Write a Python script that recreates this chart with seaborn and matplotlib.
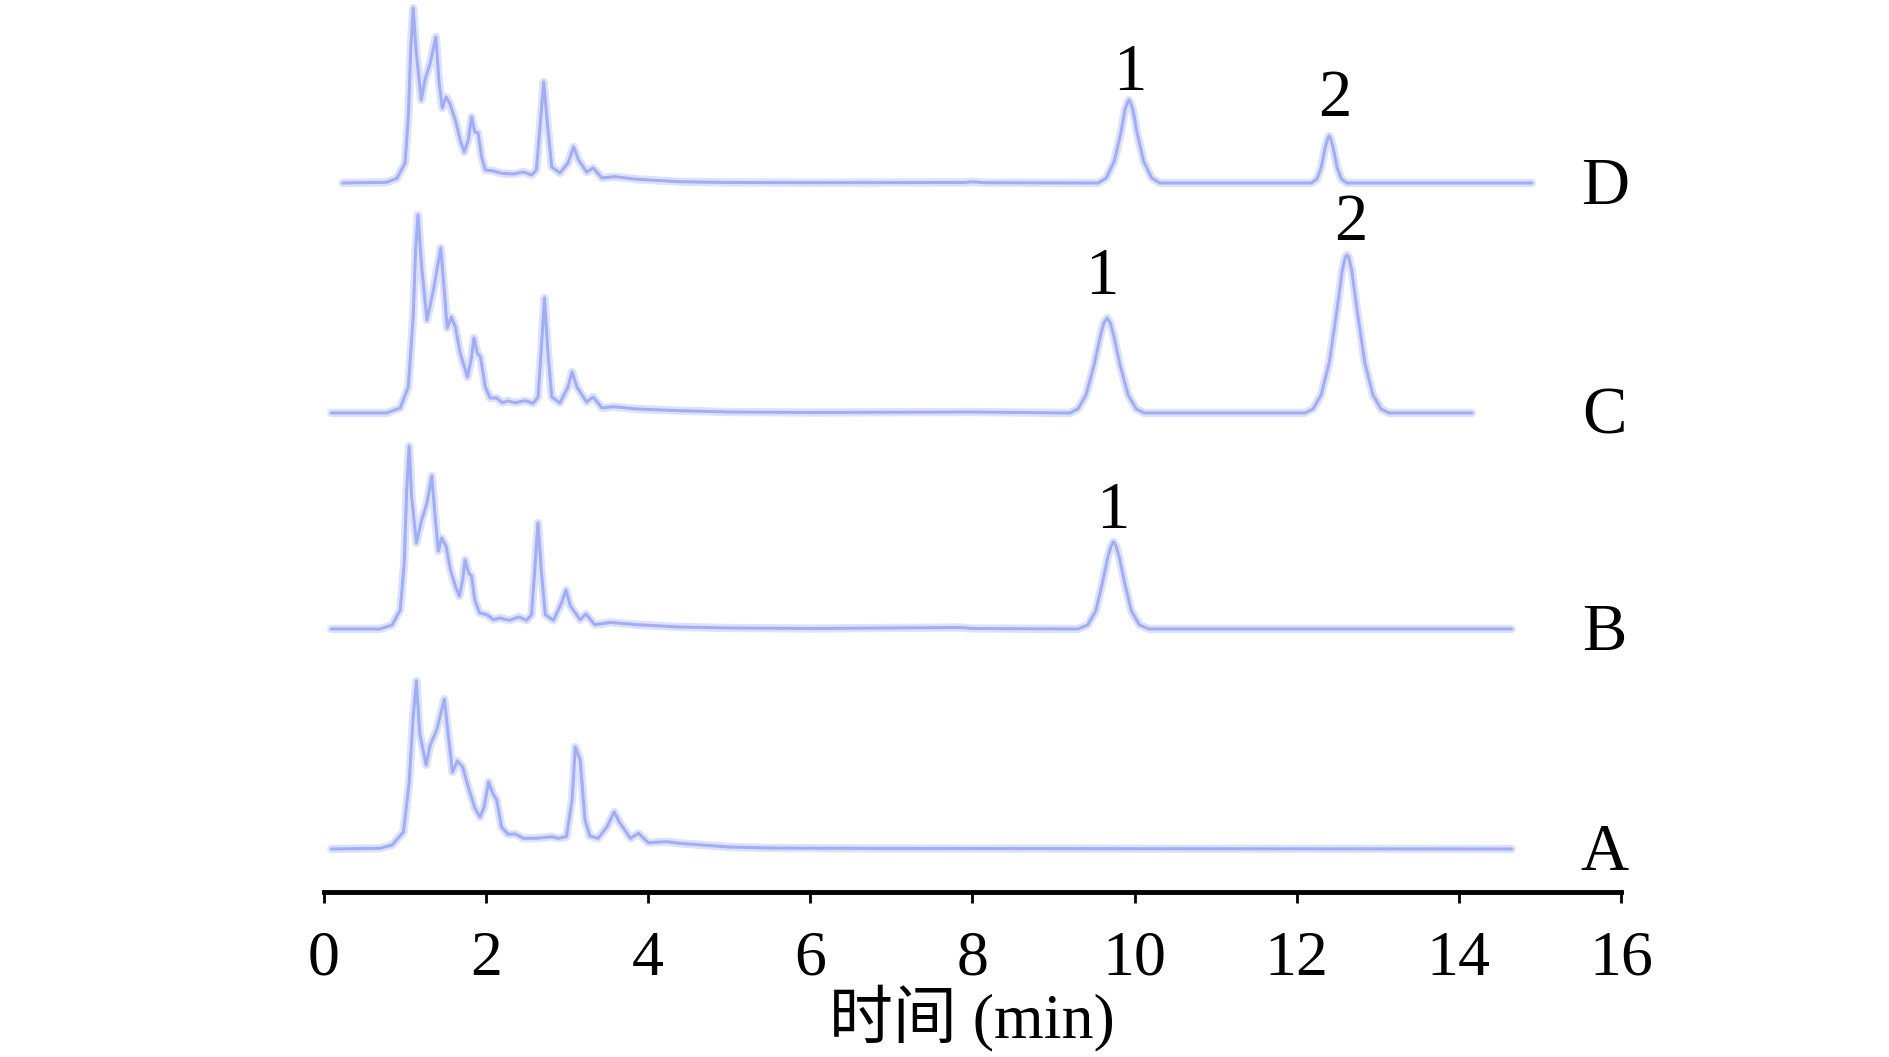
import pandas as pd
import seaborn as sns
import matplotlib.pyplot as plt

# chromatogram traces: (time in min, signal above own baseline)
trace_a = [(0.09, 0), (0.69, 0.7), (0.84, 4), (0.98, 17), (1.05, 66), (1.10, 132), (1.14, 168),
           (1.18, 116), (1.26, 84), (1.31, 104), (1.39, 119), (1.485, 150), (1.53, 116), (1.585, 77),
           (1.645, 88), (1.71, 82), (1.78, 62), (1.86, 41), (1.925, 32), (1.975, 42), (2.03, 67),
           (2.08, 56), (2.13, 49), (2.19, 22), (2.27, 14.7), (2.36, 15), (2.46, 10.7), (2.62, 10.7),
           (2.81, 12.3), (2.89, 10.7), (2.99, 12.3), (3.06, 49), (3.10, 102), (3.16, 89), (3.22, 29),
           (3.28, 13), (3.38, 10.7), (3.49, 22), (3.58, 37), (3.65, 26), (3.78, 10.7), (3.88, 15.7),
           (4.0, 6.3), (4.23, 7.3), (4.39, 5.7), (5.0, 2), (5.5, 1), (7.0, 0.5), (14.65, 0)]

trace_b = [(0.09, 0), (0.69, 0), (0.84, 4), (0.94, 19), (0.99, 66), (1.02, 139), (1.05, 183),
           (1.08, 133), (1.14, 86), (1.205, 109), (1.27, 126), (1.33, 153), (1.37, 113), (1.41, 78),
           (1.45, 91), (1.505, 83), (1.56, 59), (1.62, 43), (1.67, 33), (1.71, 49), (1.74, 69),
           (1.785, 56), (1.82, 53), (1.86, 29), (1.92, 16), (2.01, 14.3), (2.09, 9.3), (2.17, 11),
           (2.29, 8.7), (2.40, 12), (2.50, 8.7), (2.56, 14.3), (2.60, 59), (2.64, 106), (2.68, 59),
           (2.73, 14.3), (2.83, 8.7), (2.93, 26), (2.985, 39), (3.04, 23), (3.16, 9.3), (3.23, 15),
           (3.34, 4.3), (3.53, 6.6), (3.86, 4.3), (4.39, 2), (5.0, 1), (6.0, 0.5), (7.85, 1.5),
           (8.0, 0.5), (9.3, 0), (9.42, 4), (9.52, 18), (9.6, 45), (9.67, 72), (9.71, 83), (9.74, 87),
           (9.77, 83), (9.81, 72), (9.88, 45), (9.96, 18), (10.06, 4), (10.18, 0), (14.65, 0)]

trace_c = [(0.09, 0), (0.77, 0), (0.94, 5), (1.04, 26), (1.10, 96), (1.13, 163), (1.16, 198),
           (1.205, 146), (1.27, 93), (1.35, 123), (1.44, 165), (1.48, 126), (1.52, 85), (1.57, 96),
           (1.62, 86), (1.68, 60), (1.77, 36), (1.82, 56), (1.85, 75), (1.89, 60), (1.93, 56),
           (1.99, 26), (2.05, 15), (2.13, 15), (2.20, 10.3), (2.27, 12), (2.36, 10.3), (2.48, 12.3),
           (2.58, 9.7), (2.64, 16), (2.68, 63), (2.72, 115), (2.76, 63), (2.81, 16), (2.91, 10),
           (3.01, 26), (3.06, 41), (3.12, 26), (3.24, 11), (3.32, 16), (3.43, 5), (3.57, 6.3),
           (3.86, 4), (4.39, 2.3), (5.0, 1), (6.0, 0.5), (8.0, 1), (9.2, 0), (9.3, 4), (9.4, 18),
           (9.5, 48), (9.58, 78), (9.62, 90), (9.66, 95), (9.70, 90), (9.74, 78), (9.82, 48),
           (9.92, 18), (10.02, 4), (10.12, 0), (12.1, 0), (12.2, 4), (12.3, 18), (12.4, 50),
           (12.5, 105), (12.56, 142), (12.60, 156), (12.62, 158), (12.64, 156), (12.68, 142),
           (12.74, 105), (12.84, 50), (12.94, 18), (13.04, 4), (13.14, 0), (14.16, 0)]

trace_d = [(0.23, 0), (0.77, 0.7), (0.90, 4.7), (1.00, 20), (1.04, 66), (1.07, 133), (1.10, 175),
           (1.135, 133), (1.20, 83), (1.245, 103), (1.31, 120), (1.38, 146), (1.42, 100), (1.46, 75),
           (1.505, 86), (1.55, 80), (1.62, 63), (1.68, 43), (1.73, 31), (1.78, 43), (1.82, 66),
           (1.86, 51), (1.90, 50), (1.945, 26), (1.99, 13), (2.09, 12), (2.19, 9.7), (2.34, 9),
           (2.46, 11), (2.56, 8), (2.62, 13), (2.665, 56), (2.71, 101), (2.76, 56), (2.81, 16),
           (2.91, 10), (3.01, 20), (3.08, 36), (3.14, 23), (3.24, 11), (3.32, 15), (3.43, 5),
           (3.59, 6.3), (3.86, 3.7), (4.39, 1.3), (5.0, 0.5), (6.0, 0.3), (7.9, 0.5), (8.0, 1.2),
           (8.15, 0.3), (9.55, 0), (9.65, 5), (9.75, 22), (9.83, 50), (9.88, 73), (9.91, 80),
           (9.93, 83), (9.95, 80), (9.98, 73), (10.03, 50), (10.11, 22), (10.21, 5), (10.31, 0),
           (12.18, 0), (12.25, 4), (12.30, 15), (12.35, 35), (12.38, 44), (12.40, 47), (12.42, 44),
           (12.45, 35), (12.50, 15), (12.55, 4), (12.62, 0), (14.9, 0)]

sample_names = ["A", "B", "C", "D"]
peak_labels = [("D", 9.94, "1"), ("D", 12.47, "2"), ("C", 9.60, "1"), ("C", 12.66, "2"), ("B", 9.73, "1")]
label_gaps = [26, 36, 40, 31, 30]
x_ticks = [0, 2, 4, 6, 8, 10, 12, 14, 16]

traces = {"A": trace_a, "B": trace_b, "C": trace_c, "D": trace_d}
offsets = {"A": 43, "B": 263, "C": 479, "D": 709}

rows = []
for name in sample_names:
    for t, s in traces[name]:
        rows.append({"sample": name, "time": t, "signal": s + offsets[name]})
df = pd.DataFrame(rows)

sns.set_style("white")
plt.rcParams['font.family'] = ['Liberation Serif', 'Noto Sans CJK SC']
plt.rcParams['text.color'] = 'black'
plt.rcParams['xtick.color'] = 'black'

fig = plt.figure(figsize=(18.9, 10.57), dpi=100)
ax = fig.add_axes([324 / 1890, 1 - 892 / 1057, 1297 / 1890, 892 / 1057])

for name in sample_names:
    sub = df[df["sample"] == name]
    sns.lineplot(data=sub, x="time", y="signal", ax=ax, sort=False, estimator=None,
                 color="#dde2fb", linewidth=6, solid_joinstyle="round", clip_on=False)
    sns.lineplot(data=sub, x="time", y="signal", ax=ax, sort=False, estimator=None,
                 color="#a2adf3", linewidth=2.2, solid_joinstyle="round", clip_on=False)
    ax.text(15.8, offsets[name] - 4, name, fontsize=48, ha="center", va="center", color="black")

for (name, t, lab), gap in zip(peak_labels, label_gaps):
    sub = df[(df["sample"] == name) & (abs(df["time"] - t) < 0.3)]
    ax.text(t, sub["signal"].max() + gap, lab, fontsize=48, ha="center", va="center", color="black")

ax.set_xlim(0, 16)
ax.set_ylim(0, 892)
ax.set_xticks(x_ticks)
ax.set_xticklabels([str(v) for v in x_ticks])
ax.set_yticks([])
ax.set_xlabel("")
ax.set_ylabel("")
for side in ["top", "right", "left"]:
    ax.spines[side].set_visible(False)
ax.spines["bottom"].set_color("black")
ax.spines["bottom"].set_linewidth(3.5)
ax.tick_params(axis="x", direction="out", length=8, width=2, color="black",
               labelsize=46, pad=20, bottom=True, labelcolor="black")

fig.text(972 / 1890, 1 - 1018 / 1057, "时间 (min)", fontsize=46, ha="center", va="center", color="black")

plt.savefig("out.png", dpi=100)
